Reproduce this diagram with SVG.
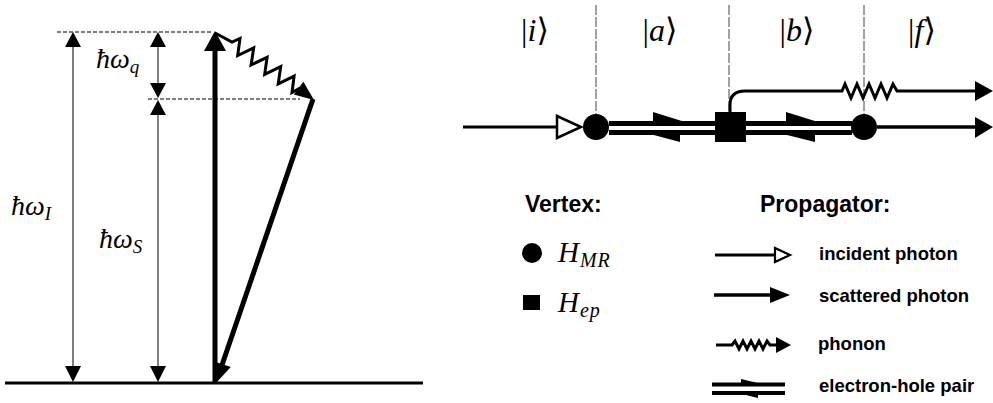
<svg xmlns="http://www.w3.org/2000/svg" width="993" height="403" viewBox="0 0 993 403">
<style>
.gray{stroke:#555;stroke-width:1.5;fill:none}
.dl{stroke:#000;stroke-width:1.2;stroke-dasharray:4 2;fill:none}
.dr{stroke:#444;stroke-width:1;stroke-dasharray:10 2;fill:none}
.thick{stroke:#000;stroke-width:5;fill:none}
.med{stroke:#000;stroke-width:3.5;fill:none}
.thin{stroke:#000;stroke-width:3;fill:none}
.math{font-family:"Liberation Serif","DejaVu Serif",serif;font-style:italic}
.up{font-style:normal}
.sans{font-family:"Liberation Sans",Arial,sans-serif;font-weight:bold}
</style>
<rect width="993" height="403" fill="#fff"/>

<!-- LEFT PANEL -->
<g id="energy-diagram">
  <line x1="5" y1="383" x2="423" y2="383" stroke="#000" stroke-width="3"/>
  <line class="dl" x1="57" y1="32" x2="212" y2="32"/>
  <line class="dl" x1="148" y1="99" x2="300" y2="99"/>
</g>
<g id="arrow-wI">
  <line class="gray" x1="73" y1="46" x2="73" y2="368"/>
  <polygon points="73,32 65,47 81,47"/>
  <polygon points="73,382 65,366 81,366"/>
  <text class="math" x="11" y="215" font-size="28">ħω<tspan font-size="19" dy="5">I</tspan></text>
</g>
<g id="arrow-wq">
  <line class="gray" x1="158" y1="46" x2="158" y2="84"/>
  <polygon points="158,32 150,47 166,47"/>
  <polygon points="158,98 150,83 166,83"/>
  <text class="math" x="96" y="68" font-size="28">ħω<tspan font-size="19" dy="5">q</tspan></text>
</g>
<g id="arrow-wS">
  <line class="gray" x1="158" y1="114" x2="158" y2="368"/>
  <polygon points="158,100 150,115 166,115"/>
  <polygon points="158,382 150,366 166,366"/>
  <text class="math" x="99" y="248" font-size="28">ħω<tspan font-size="19" dy="5">S</tspan></text>
</g>
<g id="incident-up">
  <line class="thick" x1="215" y1="383" x2="215" y2="48"/>
  <polygon points="215,31 204,51 226,51"/>
</g>
<g id="phonon-left">
  <polyline class="thin" stroke-linejoin="miter" points="215,33 232,42 240,38.4 237.7,55.5 253.7,47.9 251.1,64.9 267.1,57.3 264.7,74.4 280.7,66.7 278.2,83.8 294.1,76.1 292,92.5 300,88"/>
  <polygon points="314,100 303.4,81.8 293.8,94.6"/>
</g>
<g id="scattered-down">
  <line class="thick" x1="313" y1="99" x2="222" y2="365"/>
  <polygon points="216,383 230.8,367 212.8,361"/>
</g>

<!-- RIGHT PANEL -->
<g id="kets" class="math" font-size="32" text-anchor="middle">
  <text x="535" y="41"><tspan class="up">|</tspan>i<tspan class="up">⟩</tspan></text>
  <text x="660" y="41"><tspan class="up">|</tspan>a<tspan class="up">⟩</tspan></text>
  <text x="797" y="41"><tspan class="up">|</tspan>b<tspan class="up">⟩</tspan></text>
  <text x="922" y="41"><tspan class="up">|</tspan>f<tspan class="up">⟩</tspan></text>
</g>
<g id="connectors">
  <line class="dr" x1="596" y1="5" x2="596" y2="114"/>
  <line class="dr" x1="729" y1="5" x2="729" y2="112"/>
  <line class="dr" x1="864" y1="5" x2="864" y2="114"/>
  <!-- incident photon -->
  <line class="thin" x1="463" y1="127" x2="557" y2="127"/>
  <polygon points="557,116 581,127 557,138" fill="#fff" stroke="#000" stroke-width="2.5"/>
  <!-- electron-hole pair a -->
  <line stroke="#000" stroke-width="5" x1="609" y1="123.5" x2="715" y2="123.5"/>
  <line stroke="#000" stroke-width="5" x1="609" y1="132.5" x2="715" y2="132.5"/>
  <polygon points="653,112 653,122 685,122"/>
  <polygon points="650,134 680,134 680,142"/>
  <!-- electron-hole pair b -->
  <line stroke="#000" stroke-width="5" x1="746" y1="123.5" x2="852" y2="123.5"/>
  <line stroke="#000" stroke-width="5" x1="746" y1="132.5" x2="852" y2="132.5"/>
  <polygon points="786,112 786,122 818,122"/>
  <polygon points="783,134 815,134 815,142"/>
  <!-- phonon -->
  <path class="thin" d="M730,112 L730,105 Q730,91 745,91 L842,91 L845,84 L851,98 L857,84 L863,98 L869,84 L875,98 L881,84 L887,98 L893,84 L897,91 L976,91"/>
  <polygon points="975,81 993,91 975,101"/>
  <!-- scattered photon -->
  <line class="med" x1="877" y1="127" x2="976" y2="127"/>
  <polygon points="975,117 993,127 975,138"/>
</g>
<g id="vertex-a"><circle cx="596" cy="127" r="13"/></g>
<g id="vertex-ep"><rect x="715" y="112" width="31" height="30"/></g>
<g id="vertex-b"><circle cx="864" cy="127" r="13"/></g>

<!-- LEGEND -->
<g id="legend-vertex">
  <text class="sans" x="525" y="212" font-size="23">Vertex:</text>
  <circle cx="532" cy="253" r="10"/>
  <text class="math" x="558" y="262" font-size="29">H<tspan font-size="20" dy="5" dx="1" letter-spacing="1">MR</tspan></text>
  <rect x="523" y="295" width="17" height="15"/>
  <text class="math" x="558" y="312" font-size="29">H<tspan font-size="20" dy="5" dx="1" letter-spacing="1">ep</tspan></text>
</g>
<g id="legend-propagator">
  <text class="sans" x="760" y="212" font-size="23">Propagator:</text>
  <line class="thin" x1="715" y1="255" x2="775" y2="255"/>
  <polygon points="775,248 790,255 775,262" fill="#fff" stroke="#000" stroke-width="2.2"/>
  <text class="sans" x="819" y="260" font-size="18.5">incident photon</text>
  <line class="med" x1="714" y1="295" x2="772" y2="295"/>
  <polygon points="770,287 790,295 770,303"/>
  <text class="sans" x="819" y="302" font-size="18.5">scattered photon</text>
  <polyline class="thin" stroke-width="2.2" points="716,345 732,345 735,341 739,349 743,341 747,349 751,341 755,349 759,341 763,349 767,341 770,345 778,345"/>
  <polygon points="776,337 791,345 776,353"/>
  <text class="sans" x="818" y="350" font-size="18.5">phonon</text>
  <line stroke="#000" stroke-width="4" x1="712" y1="384.5" x2="785" y2="384.5"/>
  <line stroke="#000" stroke-width="4" x1="712" y1="393" x2="785" y2="393"/>
  <polygon points="741,379 741,384 762,384"/>
  <polygon points="738,393 758,393 758,398"/>
  <text class="sans" x="819" y="392" font-size="18.5">electron-hole pair</text>
</g>
</svg>
